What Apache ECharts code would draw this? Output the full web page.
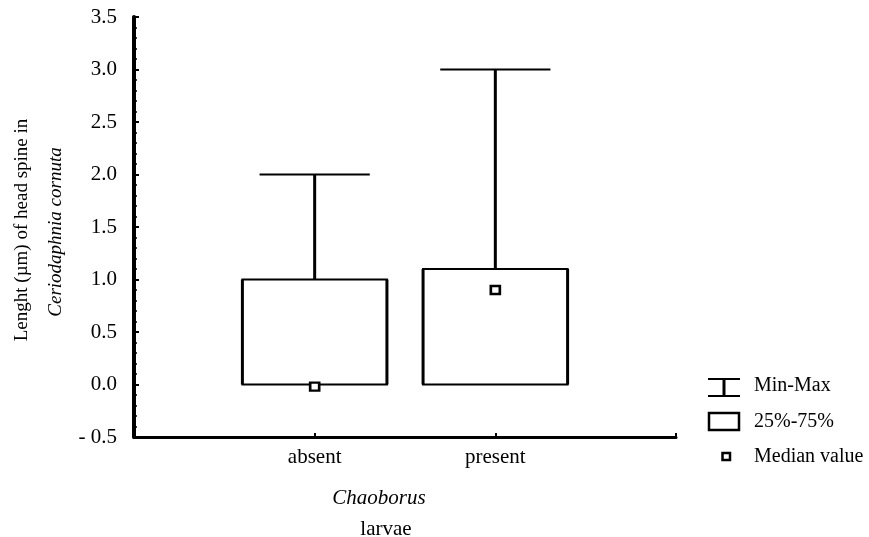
<!DOCTYPE html>
<html>
<head>
<meta charset="utf-8">
<script src="https://cdn.jsdelivr.net/npm/echarts@6/dist/echarts.min.js"></script>
<style>
html,body{margin:0;padding:0;background:#fff;}
#chart{width:869px;height:537px;}
</style>
</head>
<body>
<div id="chart"></div>
<script>
// ---- data ----
const categories = ['', 'absent', 'present', ''];
const groups = ['absent', 'present'];
const minVals = [0.0, 0.0];
const q1Vals = [0.0, 0.0];
const medianVals = [-0.02, 0.9];
const q3Vals = [1.0, 1.1];
const maxVals = [2.0, 3.0];
const yMin = -0.5, yMax = 3.5, yStep = 0.5;
const yTitle1 = 'Lenght (µm) of head spine in';
const yTitle2 = 'Ceriodaphnia cornuta';
const xTitle1 = 'Chaoborus';
const xTitle2 = 'larvae';
const legendNames = ['Min-Max', '25%-75%', 'Median value'];

const FONT = '"Liberation Serif", "Times New Roman", serif';

const boxData = groups.map((g, i) => [g, minVals[i], q1Vals[i], medianVals[i], q3Vals[i], maxVals[i]]);
const medData = groups.map((g, i) => [g, medianVals[i]]);

function renderBox(params, api) {
  const x = api.value(0);
  const vMin = api.value(1), vQ1 = api.value(2);
  const pMin = api.coord([x, vMin]);
  const pQ1 = api.coord([x, vQ1]);
  const pQ3 = api.coord([x, api.value(4)]);
  const pMax = api.coord([x, api.value(5)]);
  const band = api.size([1, 0])[0];
  const boxW = band * 0.8;
  const capW = band * 0.61;
  const cx = pQ1[0];
  const L = cx - boxW / 2, R = cx + boxW / 2;
  const vs = { stroke: '#000', lineWidth: 3 };
  const hs = { stroke: '#000', lineWidth: 2 };
  const children = [
    { type: 'rect', shape: { x: L, y: pQ3[1], width: boxW, height: pQ1[1] - pQ3[1] }, style: { fill: '#fff' } },
    { type: 'line', shape: { x1: cx, y1: pQ3[1], x2: cx, y2: pMax[1] }, style: vs },
    { type: 'line', shape: { x1: cx - capW / 2, y1: pMax[1], x2: cx + capW / 2, y2: pMax[1] }, style: hs },
    { type: 'line', shape: { x1: L - 1, y1: pQ3[1], x2: R + 1, y2: pQ3[1] }, style: hs },
    { type: 'line', shape: { x1: L - 1, y1: pQ1[1], x2: R + 1, y2: pQ1[1] }, style: hs },
    { type: 'line', shape: { x1: L, y1: pQ3[1], x2: L, y2: pQ1[1] }, style: vs },
    { type: 'line', shape: { x1: R, y1: pQ3[1], x2: R, y2: pQ1[1] }, style: vs }
  ];
  if (vMin < vQ1) {
    children.push(
      { type: 'line', shape: { x1: cx, y1: pQ1[1], x2: cx, y2: pMin[1] }, style: vs },
      { type: 'line', shape: { x1: cx - capW / 2, y1: pMin[1], x2: cx + capW / 2, y2: pMin[1] }, style: hs }
    );
  }
  return { type: 'group', children };
}

const chart = echarts.init(document.getElementById('chart'));
chart.setOption({
  backgroundColor: '#fff',
  animation: false,
  textStyle: { fontFamily: FONT, color: '#000' },
  grid: { left: 134, right: 193, top: 17, bottom: 100, containLabel: false },
  xAxis: {
    type: 'category',
    data: categories,
    boundaryGap: false,
    axisLine: { show: true, onZero: false, lineStyle: { color: '#000', width: 3 } },
    axisTick: { show: true, inside: true, length: 4, lineStyle: { color: '#000', width: 2 } },
    axisLabel: { color: '#000', fontFamily: FONT, fontSize: 21, margin: 10 },
    splitLine: { show: false }
  },
  yAxis: {
    type: 'value',
    min: yMin, max: yMax, interval: yStep,
    axisLine: { show: true, lineStyle: { color: '#000', width: 4 } },
    axisTick: { show: true, inside: true, length: 5, lineStyle: { color: '#000', width: 2 } },
    minorTick: { show: true, splitNumber: 5, length: 3, lineStyle: { color: '#000', width: 1.5 } },
    axisLabel: {
      color: '#000', fontFamily: FONT, fontSize: 21, margin: 17,
      formatter: v => (v < 0 ? '- ' + Math.abs(v).toFixed(1) : v.toFixed(1))
    },
    splitLine: { show: false }
  },
  series: [
    {
      type: 'custom',
      name: '25%-75%',
      data: boxData,
      encode: { x: 0, y: [1, 2, 3, 4, 5] },
      renderItem: renderBox,
      z: 2
    },
    {
      type: 'scatter',
      name: 'Median value',
      data: medData,
      symbol: 'rect',
      symbolSize: [9, 8],
      itemStyle: { color: '#fff', borderColor: '#000', borderWidth: 2.5, opacity: 1 },
      z: 5
    }
  ],
  graphic: [
    { type: 'text', x: 22, y: 230, rotation: Math.PI / 2,
      style: { text: yTitle1, font: '19px ' + FONT, fill: '#000', textAlign: 'center', textVerticalAlign: 'middle' } },
    { type: 'text', x: 56, y: 232, rotation: Math.PI / 2,
      style: { text: yTitle2, font: 'italic 19px ' + FONT, fill: '#000', textAlign: 'center', textVerticalAlign: 'middle' } },
    { type: 'text', x: 379, y: 498,
      style: { text: xTitle1, font: 'italic 21px ' + FONT, fill: '#000', textAlign: 'center', textVerticalAlign: 'middle' } },
    { type: 'text', x: 386, y: 529,
      style: { text: xTitle2, font: '21px ' + FONT, fill: '#000', textAlign: 'center', textVerticalAlign: 'middle' } },
    // legend
    { type: 'line', shape: { x1: 708, y1: 379, x2: 740, y2: 379 }, style: { stroke: '#000', lineWidth: 2 } },
    { type: 'line', shape: { x1: 724, y1: 379, x2: 724, y2: 396 }, style: { stroke: '#000', lineWidth: 3 } },
    { type: 'line', shape: { x1: 708, y1: 396, x2: 740, y2: 396 }, style: { stroke: '#000', lineWidth: 2 } },
    { type: 'text', x: 754, y: 386, style: { text: legendNames[0], font: '20px ' + FONT, fill: '#000', textAlign: 'left', textVerticalAlign: 'middle' } },
    { type: 'rect', shape: { x: 709, y: 413, width: 30, height: 17 }, style: { fill: '#fff', stroke: '#000', lineWidth: 2.5 } },
    { type: 'text', x: 754, y: 422, style: { text: legendNames[1], font: '20px ' + FONT, fill: '#000', textAlign: 'left', textVerticalAlign: 'middle' } },
    { type: 'rect', shape: { x: 722.5, y: 453, width: 7.5, height: 7 }, style: { fill: '#fff', stroke: '#000', lineWidth: 2.5 } },
    { type: 'text', x: 754, y: 457, style: { text: legendNames[2], font: '20px ' + FONT, fill: '#000', textAlign: 'left', textVerticalAlign: 'middle' } }
  ]
});
</script>
</body>
</html>
